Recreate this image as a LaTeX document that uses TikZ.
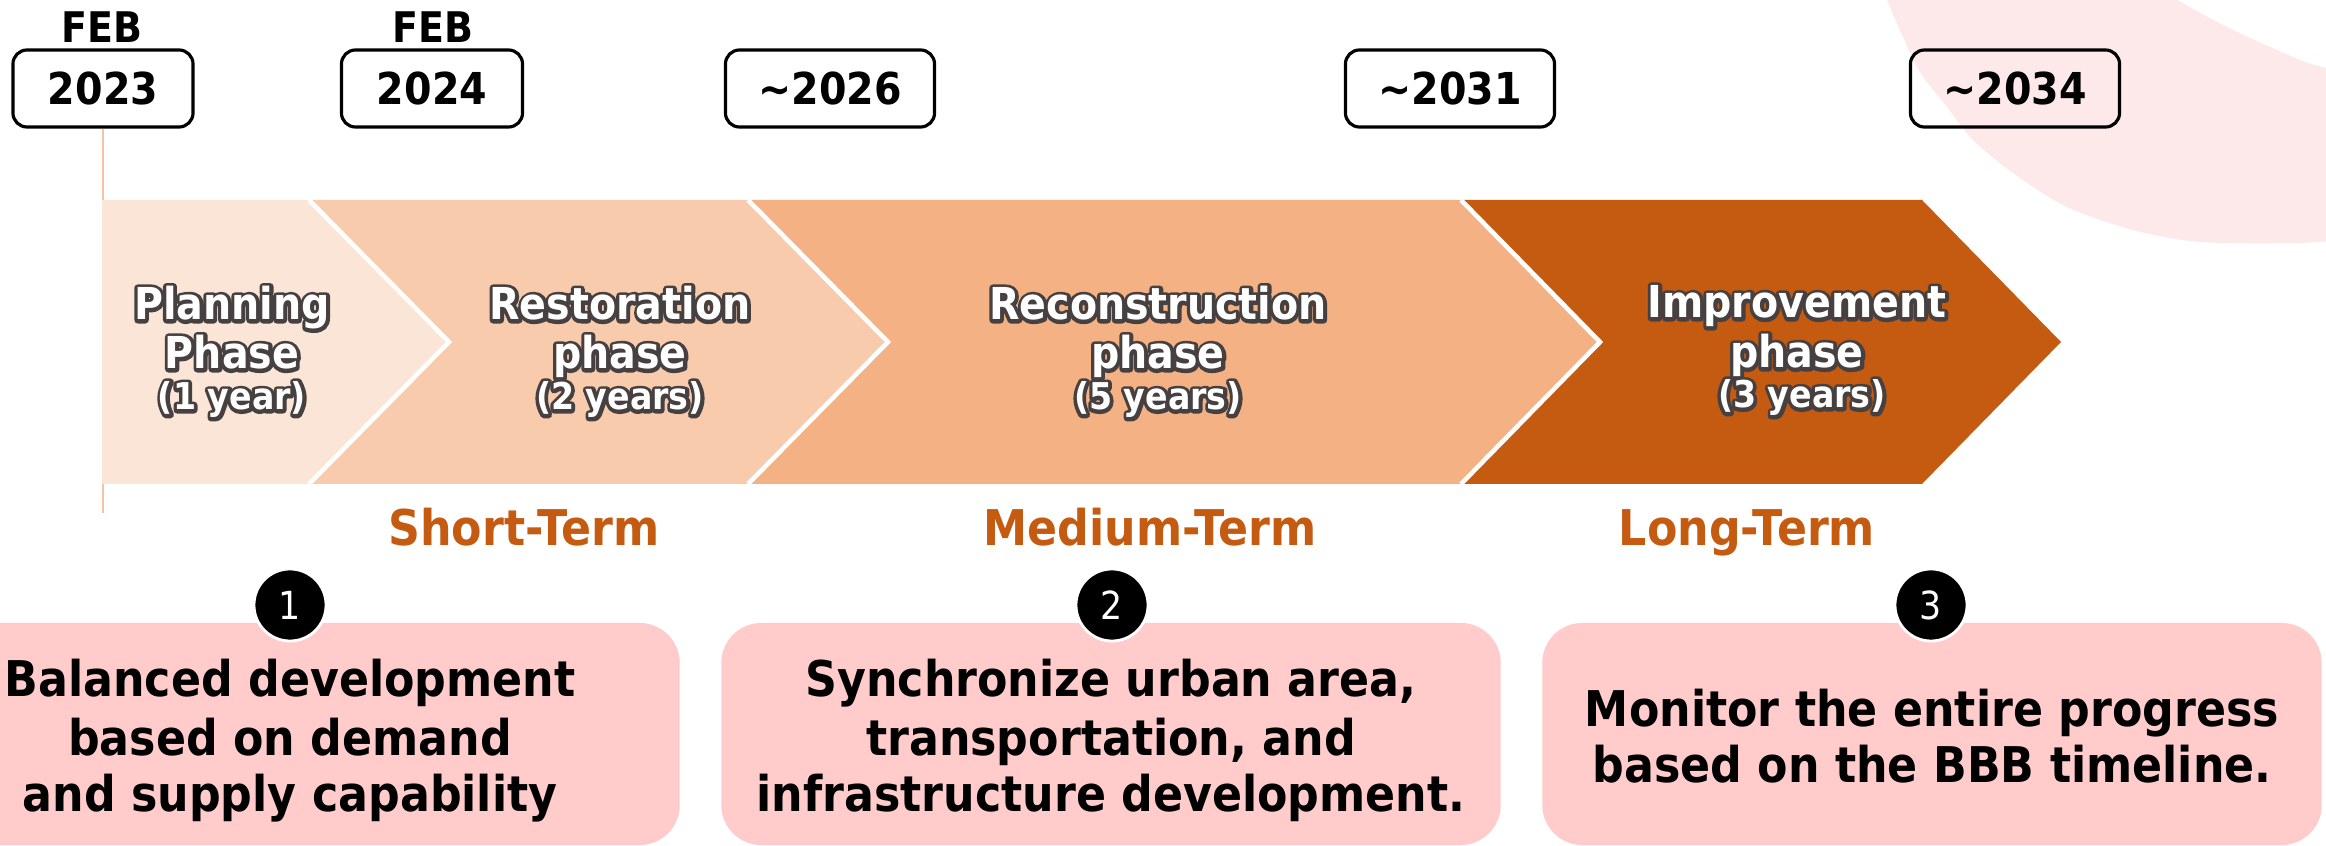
\documentclass[tikz,border=0pt]{standalone}
\usepackage{fontspec}
\setmainfont{DejaVu Sans}[FakeStretch=0.9]
\definecolor{cA}{HTML}{FBE5D6}
\definecolor{cB}{HTML}{F8CBAD}
\definecolor{cC}{HTML}{F4B183}
\definecolor{cD}{HTML}{C55A11}
\definecolor{termc}{HTML}{C55A11}
\definecolor{pinkbox}{HTML}{FFCBCB}
\definecolor{ringc}{HTML}{FDE9EA}
\definecolor{vlinec}{HTML}{F6C3A2}
\newcommand{\strokeonly}[1]{\special{pdf:code 0.28 0.25 0.25 RG 2 w 1 j 1 J 1 Tr}#1\special{pdf:code 0 Tr}}
\newcommand{\glowlbl}[4]{%
  \node[font=#3, text=black, anchor=base] at (#2) {\strokeonly{#4}};
  \node[font=#3, text=white, anchor=base] (#1) at (#2) {#4};}
\begin{document}
\begin{tikzpicture}[x=0.01cm,y=-0.01cm,
  datebox/.style={draw=black, line width=0.9pt, rounded corners=4pt, minimum height=0.77cm, inner sep=0pt, font=\fontsize{12.5}{14}\selectfont\bfseries},
  feb/.style={anchor=base, font=\fontsize{12}{14}\selectfont\bfseries},
  term/.style={anchor=base, text=termc, font=\fontsize{14}{16}\selectfont\bfseries},
  numc/.style={circle, fill=black, draw=white, line width=0.8pt, minimum size=0.72cm, inner sep=0pt, text=white, font=\fontsize{11}{12}\selectfont},
  pbox/.style={fill=pinkbox, rounded corners=0.4cm, minimum height=2.22cm, minimum width=7.79cm, inner sep=0pt},
  btxt/.style={anchor=base, font=\fontsize{14}{16}\selectfont\bfseries},
  sep/.style={draw=white, line width=1.3pt}
]
\useasboundingbox (0,0) rectangle (2326,846);
\clip (0,0) rectangle (2326,846);
% background ring
\fill[ringc] plot[smooth] coordinates {(1887,0) (1917,67) (1947,107) (1973,140) (2013,173) (2067,207) (2133,230) (2200,242) (2300,243) (2340,240)}
  -- (2340,72) -- plot[smooth] coordinates {(2326,68) (2300,60) (2233,30) (2177,0)} -- cycle;
% date boxes
\node[feb] (f1) at (102,43) {FEB};
\node[feb] (f2) at (433,43) {FEB};
\node[datebox, minimum width=1.8cm] (d1) at (103,88.5) {2023};
\node[datebox, minimum width=1.81cm] (d2) at (432,88.5) {2024};
\node[datebox, minimum width=2.09cm] (d3) at (830,88.5) {\textasciitilde2026};
\node[datebox, minimum width=2.09cm] (d4) at (1450,88.5) {\textasciitilde2031};
\node[datebox, minimum width=2.09cm] (d5) at (2015,88.5) {\textasciitilde2034};
% vertical line
\coordinate (vend) at (102,513);
\draw[vlinec, line width=0.5pt] (d1.south) -- (d1.south |- vend);
% chevrons
\fill[cA] (102,200) -- (309,200) -- (449,342) -- (309,484) -- (102,484) -- cycle;
\fill[cB] (309,200) -- (748,200) -- (888,342) -- (748,484) -- (309,484) -- (449,342) -- cycle;
\fill[cC] (748,200) -- (1461,200) -- (1600,342) -- (1461,484) -- (748,484) -- (888,342) -- cycle;
\fill[cD] (1461,200) -- (1922,200) -- (2061,342) -- (1922,484) -- (1461,484) -- (1600,342) -- cycle;
\draw[sep] (309,200) -- (449,342) -- (309,484);
\draw[sep] (748,200) -- (888,342) -- (748,484);
\draw[sep] (1461,200) -- (1600,342) -- (1461,484);
% chevron labels
\glowlbl{pa}{232,320}{\fontsize{12.5}{14}\selectfont\bfseries}{Planning}
\glowlbl{pb}{232,369}{\fontsize{12.5}{14}\selectfont\bfseries}{Phase}
\glowlbl{pc}{232,410}{\fontsize{10.5}{12}\selectfont\bfseries}{(1 year)}
\glowlbl{ra}{620,320}{\fontsize{12.5}{14}\selectfont\bfseries}{Restoration}
\glowlbl{rb}{620,369}{\fontsize{12.5}{14}\selectfont\bfseries}{phase}
\glowlbl{rc}{620,410}{\fontsize{10.5}{12}\selectfont\bfseries}{(2 years)}
\glowlbl{ca}{1158,320}{\fontsize{12.5}{14}\selectfont\bfseries}{Reconstruction}
\glowlbl{cb}{1158,369}{\fontsize{12.5}{14}\selectfont\bfseries}{phase}
\glowlbl{cc}{1158,410}{\fontsize{10.5}{12}\selectfont\bfseries}{(5 years)}
\glowlbl{ia}{1797,318}{\fontsize{12.5}{14}\selectfont\bfseries}{Improvement}
\glowlbl{ib}{1797,368}{\fontsize{12.5}{14}\selectfont\bfseries}{phase}
\glowlbl{ic}{1802,408}{\fontsize{10.5}{12}\selectfont\bfseries}{(3 years)}
% terms
\node[term] (t1) at (524,546) {Short-Term};
\node[term] (t2) at (1150,546) {Medium-Term};
\node[term] (t3) at (1747,546) {Long-Term};
% pink boxes
\node[pbox] (p1) at (290,734) {};
\node[pbox] (p2) at (1111,734) {};
\node[pbox] (p3) at (1932,734) {};
\node[btxt] (b1a) at (290,697) {Balanced development};
\node[btxt] (b1b) at (290,755) {based on demand};
\node[btxt] (b1c) at (290,812) {and supply capability};
\node[btxt] (b2a) at (1111,697) {Synchronize urban area,};
\node[btxt] (b2b) at (1111,755) {transportation, and};
\node[btxt] (b2c) at (1111,812) {infrastructure development.};
\node[btxt] (b3a) at (1932,727) {Monitor the entire progress};
\node[btxt] (b3b) at (1932,783) {based on the BBB timeline.};
% number circles
\node[numc] (n1) at (290,605) {1};
\node[numc] (n2) at (1112,605) {2};
\node[numc] (n3) at (1931,605) {3};
\end{tikzpicture}
\end{document}
